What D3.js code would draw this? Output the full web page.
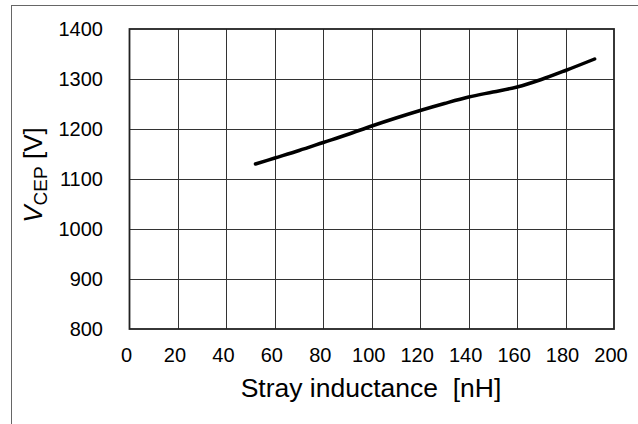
<!DOCTYPE html>
<html>
<head>
<meta charset="utf-8">
<script src="https://cdn.jsdelivr.net/npm/d3@7"></script>
<style>
  body { margin: 0; background: #fff; }
  text { font-family: Arial, "Liberation Sans", sans-serif; fill: #000; }
</style>
</head>
<body>
<div id="chart"></div>
<script>
const width = 638;
const height = 424;

// stray inductance [nH] vs V_CEP [V]
const inductance = [52, 60, 70, 80, 90, 100, 110, 120, 130, 140, 150, 160, 170, 180, 192];
const vcep = [1130, 1142, 1157, 1173, 1189, 1206, 1222, 1237, 1251, 1264, 1274, 1284, 1299, 1317, 1340];
const xTicks = [0, 20, 40, 60, 80, 100, 120, 140, 160, 180, 200];
const yTicks = [800, 900, 1000, 1100, 1200, 1300, 1400];

const plotLeft = 129.5, plotRight = 614, plotTop = 29, plotBottom = 329;

const x = d3.scaleLinear().domain([0, 200]).range([plotLeft, plotRight]);
const y = d3.scaleLinear().domain([800, 1400]).range([plotBottom, plotTop]);

const svg = d3.select("#chart")
  .append("svg")
  .attr("width", width)
  .attr("height", height);

// outer frame (only top/left visible)
svg.append("rect")
  .attr("x", 11.5).attr("y", 5.5)
  .attr("width", 800).attr("height", 600)
  .attr("fill", "none")
  .attr("stroke", "#666")
  .attr("stroke-width", 1);

// grid
svg.append("g")
  .selectAll("line")
  .data(xTicks.slice(1, -1))
  .enter()
  .append("line")
  .attr("x1", d => Math.round(x(d)) + 0.5).attr("x2", d => Math.round(x(d)) + 0.5)
  .attr("y1", plotTop).attr("y2", plotBottom)
  .attr("stroke", "#333").attr("stroke-width", 1);

svg.append("g")
  .selectAll("line")
  .data(yTicks.slice(1, -1))
  .enter()
  .append("line")
  .attr("y1", d => Math.round(y(d)) + 0.5).attr("y2", d => Math.round(y(d)) + 0.5)
  .attr("x1", plotLeft).attr("x2", plotRight)
  .attr("stroke", "#333").attr("stroke-width", 1);

// plot frame
svg.append("rect")
  .attr("x", plotLeft).attr("y", plotTop)
  .attr("width", plotRight - plotLeft).attr("height", plotBottom - plotTop)
  .attr("fill", "none")
  .attr("stroke", "#222")
  .attr("stroke-width", 1.8);

// tick labels
svg.append("g")
  .selectAll("text")
  .data(xTicks)
  .enter()
  .append("text")
  .attr("x", d => x(d) - 3)
  .attr("y", 362)
  .attr("text-anchor", "middle")
  .style("font-size", "20px")
  .text(d => d);

svg.append("g")
  .selectAll("text")
  .data(yTicks)
  .enter()
  .append("text")
  .attr("x", 103)
  .attr("y", d => y(d) + 7)
  .attr("text-anchor", "end")
  .style("font-size", "20px")
  .text(d => d);

// axis titles
svg.append("text")
  .attr("x", 371)
  .attr("y", 397)
  .attr("text-anchor", "middle")
  .style("font-size", "26.5px")
  .style("white-space", "pre")
  .text("Stray inductance  [nH]");

const ylab = svg.append("text")
  .attr("transform", "translate(42," + ((plotTop + plotBottom) / 2 - 4) + ") rotate(-90)")
  .attr("text-anchor", "middle")
  .style("font-size", "26px");
ylab.append("tspan").style("font-style", "italic").text("V");
ylab.append("tspan").attr("dy", 5).style("font-size", "19px").text("CEP");
ylab.append("tspan").attr("dy", -5).text(" [V]");

// curve
const line = d3.line()
  .x((d, i) => x(inductance[i]))
  .y(d => y(d))
  .curve(d3.curveCatmullRom);

svg.append("path")
  .datum(vcep)
  .attr("d", line)
  .attr("fill", "none")
  .attr("stroke", "#000")
  .attr("stroke-width", 3.5)
  .attr("stroke-linecap", "round");
</script>
</body>
</html>
